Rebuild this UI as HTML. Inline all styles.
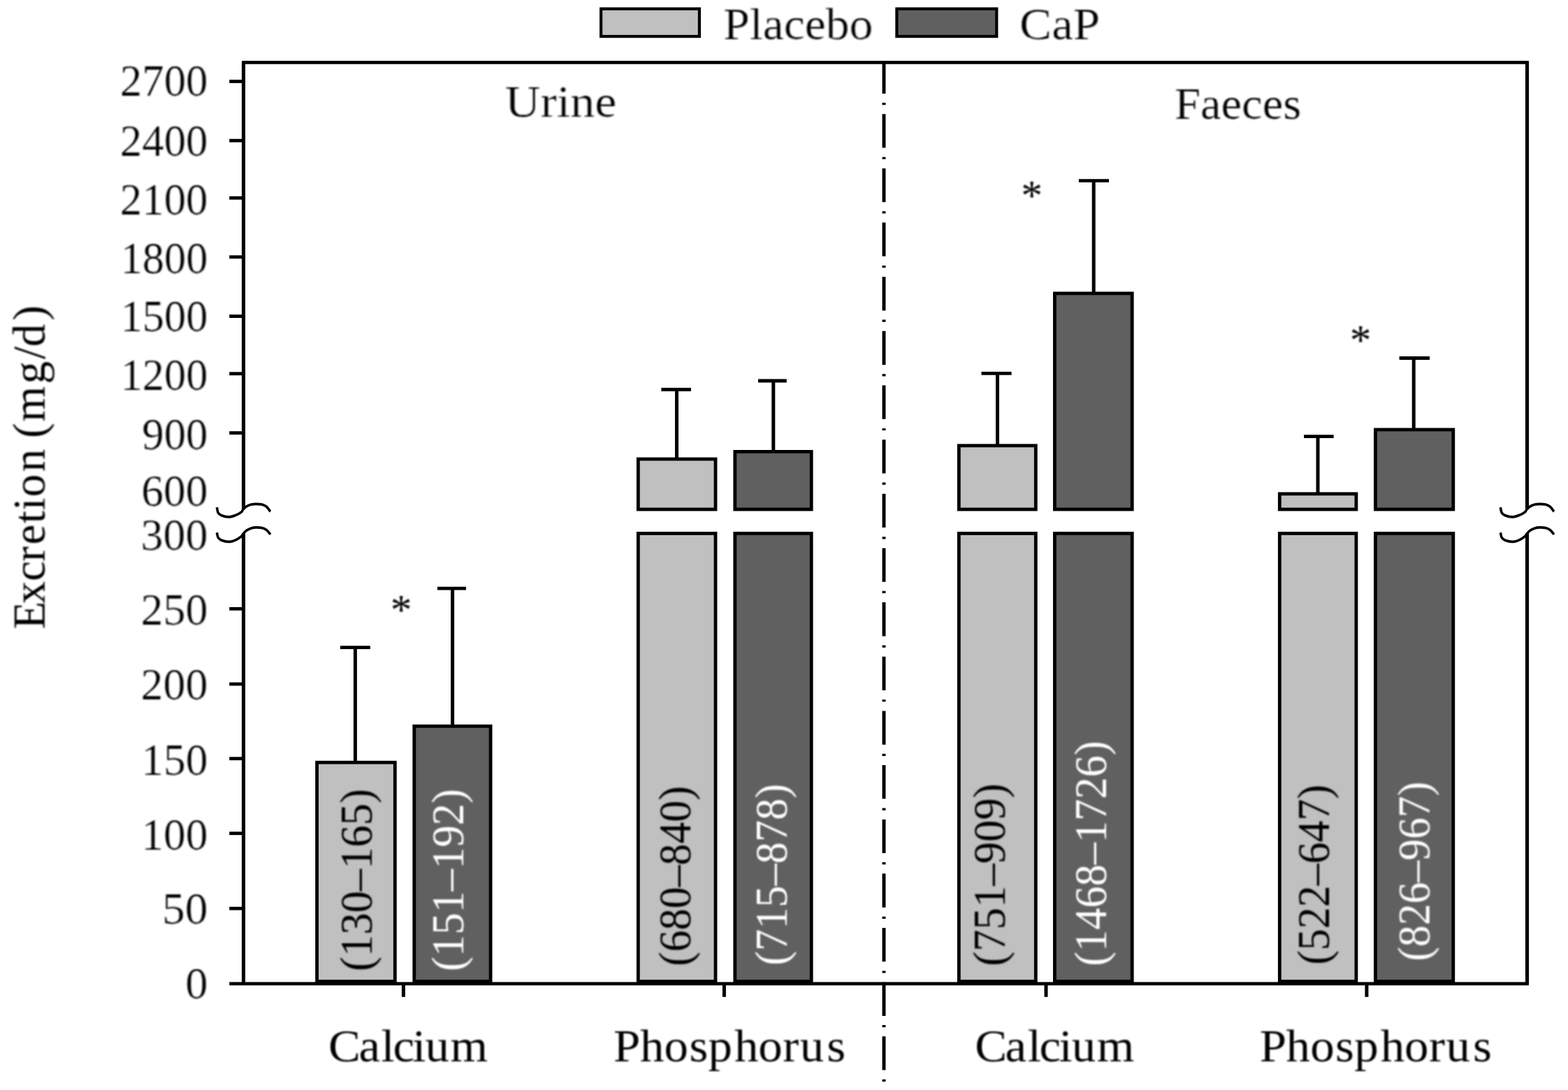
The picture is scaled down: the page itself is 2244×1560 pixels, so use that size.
<!DOCTYPE html>
<html lang="en">
<head>
<meta charset="utf-8">
<title>Excretion of calcium and phosphorus in urine and faeces</title>
<style>
html, body { margin: 0; padding: 0; background: #fff; }
body { width: 2244px; height: 1560px; }
svg { display: block; }
svg text { font-family: 'Liberation Serif', serif; }
</style>
</head>
<body>
<svg width="2244" height="1560" viewBox="0 0 2244 1560">
<rect x="0" y="0" width="2244" height="1560" fill="#fff"/>
<defs>
<filter id="soft-text" filterUnits="userSpaceOnUse" x="0" y="0" width="2244" height="1560"><feGaussianBlur stdDeviation="0.9 0.85"/></filter>
</defs>
<g class="shapes">
<rect x="860.10" y="12.60" width="140.80" height="39.50" fill="#c0c0c0" stroke="#000" stroke-width="4.2"/>
<rect x="1283.40" y="12.60" width="142.90" height="39.50" fill="#606060" stroke="#000" stroke-width="4.2"/>
<line x1="1265" y1="87.1" x2="1265" y2="1560" stroke="#000" stroke-width="4.9" stroke-dasharray="48.3 13.1 3.2 13.05" stroke-dashoffset="1.5"/>
<line x1="508.40" y1="926.70" x2="508.40" y2="1091.80" stroke="#000" stroke-width="5.0" />
<line x1="486.90" y1="926.70" x2="529.90" y2="926.70" stroke="#000" stroke-width="4.8" />
<rect x="453.60" y="1091.20" width="111.70" height="313.40" fill="#c0c0c0" stroke="#000" stroke-width="4.8"/>
<line x1="647.60" y1="842.10" x2="647.60" y2="1039.90" stroke="#000" stroke-width="5.0" />
<line x1="626.00" y1="842.10" x2="667.00" y2="842.10" stroke="#000" stroke-width="4.8" />
<rect x="592.80" y="1039.30" width="109.30" height="365.30" fill="#606060" stroke="#000" stroke-width="4.8"/>
<line x1="968.50" y1="557.50" x2="968.50" y2="657.60" stroke="#000" stroke-width="5.0" />
<line x1="946.40" y1="557.50" x2="988.90" y2="557.50" stroke="#000" stroke-width="4.8" />
<rect x="913.30" y="657.00" width="110.70" height="72.00" fill="#c0c0c0" stroke="#000" stroke-width="4.8"/>
<rect x="913.30" y="763.40" width="110.70" height="641.20" fill="#c0c0c0" stroke="#000" stroke-width="4.8"/>
<line x1="1106.80" y1="545.00" x2="1106.80" y2="647.00" stroke="#000" stroke-width="5.0" />
<line x1="1085.00" y1="545.00" x2="1125.80" y2="545.00" stroke="#000" stroke-width="4.8" />
<rect x="1051.80" y="646.40" width="109.40" height="82.60" fill="#606060" stroke="#000" stroke-width="4.8"/>
<rect x="1051.80" y="763.40" width="109.40" height="641.20" fill="#606060" stroke="#000" stroke-width="4.8"/>
<line x1="1427.50" y1="534.40" x2="1427.50" y2="638.40" stroke="#000" stroke-width="5.0" />
<line x1="1404.50" y1="534.40" x2="1447.60" y2="534.40" stroke="#000" stroke-width="4.8" />
<rect x="1372.30" y="637.80" width="110.00" height="91.20" fill="#c0c0c0" stroke="#000" stroke-width="4.8"/>
<rect x="1372.30" y="763.40" width="110.00" height="641.20" fill="#c0c0c0" stroke="#000" stroke-width="4.8"/>
<line x1="1565.20" y1="258.70" x2="1565.20" y2="420.50" stroke="#000" stroke-width="5.0" />
<line x1="1543.90" y1="258.70" x2="1587.00" y2="258.70" stroke="#000" stroke-width="4.8" />
<rect x="1509.40" y="419.90" width="110.80" height="309.10" fill="#606060" stroke="#000" stroke-width="4.8"/>
<rect x="1509.40" y="763.40" width="110.80" height="641.20" fill="#606060" stroke="#000" stroke-width="4.8"/>
<line x1="1886.00" y1="624.60" x2="1886.00" y2="707.40" stroke="#000" stroke-width="5.0" />
<line x1="1866.10" y1="624.60" x2="1908.60" y2="624.60" stroke="#000" stroke-width="4.8" />
<rect x="1831.30" y="706.80" width="109.60" height="22.20" fill="#c0c0c0" stroke="#000" stroke-width="4.8"/>
<rect x="1831.30" y="763.40" width="109.60" height="641.20" fill="#c0c0c0" stroke="#000" stroke-width="4.8"/>
<line x1="2023.20" y1="512.50" x2="2023.20" y2="615.50" stroke="#000" stroke-width="5.0" />
<line x1="2002.60" y1="512.50" x2="2046.00" y2="512.50" stroke="#000" stroke-width="4.8" />
<rect x="1968.40" y="614.90" width="111.40" height="114.10" fill="#606060" stroke="#000" stroke-width="4.8"/>
<rect x="1968.40" y="763.40" width="111.40" height="641.20" fill="#606060" stroke="#000" stroke-width="4.8"/>
<line x1="346.10" y1="89.30" x2="2187.90" y2="89.30" stroke="#000" stroke-width="4.8" />
<line x1="328.20" y1="1407.90" x2="2187.90" y2="1407.90" stroke="#000" stroke-width="4.8" />
<line x1="348.50" y1="89.30" x2="348.50" y2="729.00" stroke="#000" stroke-width="5.1" />
<line x1="348.50" y1="763.00" x2="348.50" y2="1407.90" stroke="#000" stroke-width="5.1" />
<line x1="2185.50" y1="89.30" x2="2185.50" y2="729.00" stroke="#000" stroke-width="5.1" />
<line x1="2185.50" y1="763.00" x2="2185.50" y2="1407.90" stroke="#000" stroke-width="5.1" />
<path d="M310.4,726.2 C310.7,727.5 311.1,732.0 312.2,733.9 C313.3,735.9 314.5,736.8 317.1,737.8 C319.7,738.8 324.6,740.0 328.0,739.9 C331.4,739.8 334.9,738.3 337.8,737.1 C340.7,736.0 343.6,734.3 345.4,732.9 C347.2,731.4 347.2,729.8 348.5,728.4 C349.8,727.1 351.2,725.7 353.1,724.6 C355.0,723.6 357.4,722.7 359.6,722.1 C361.8,721.6 363.6,721.4 366.2,721.4 C368.8,721.4 372.4,721.5 374.9,722.1 C377.4,722.8 379.6,723.8 381.4,725.2 C383.2,726.7 384.9,729.5 385.8,730.6 C386.7,731.8 386.7,732.0 386.9,732.2" fill="none" stroke="#000" stroke-width="3.6" stroke-linejoin="round"/>
<path d="M310.4,762.3 C310.7,763.5 311.1,767.6 312.2,769.4 C313.3,771.2 314.5,772.2 317.1,773.2 C319.7,774.2 324.6,775.5 328.0,775.4 C331.4,775.3 334.9,773.9 337.8,772.6 C340.7,771.3 343.6,769.2 345.4,767.7 C347.2,766.2 347.2,764.9 348.5,763.4 C349.8,761.9 351.2,760.2 353.1,759.0 C355.0,757.8 357.4,756.7 359.6,756.0 C361.8,755.3 363.6,755.0 366.2,754.9 C368.8,754.8 372.4,754.9 374.9,755.5 C377.4,756.1 379.6,757.2 381.4,758.5 C383.2,759.8 384.9,762.3 385.8,763.4 C386.7,764.5 386.7,764.7 386.9,765.0" fill="none" stroke="#000" stroke-width="3.6" stroke-linejoin="round"/>
<path d="M2147.4,726.2 C2147.7,727.5 2148.1,732.0 2149.2,733.9 C2150.3,735.9 2151.5,736.8 2154.1,737.8 C2156.7,738.8 2161.6,740.0 2165.0,739.9 C2168.4,739.8 2171.9,738.3 2174.8,737.1 C2177.7,736.0 2180.6,734.3 2182.4,732.9 C2184.2,731.4 2184.2,729.8 2185.5,728.4 C2186.8,727.1 2188.2,725.7 2190.1,724.6 C2191.9,723.6 2194.4,722.7 2196.6,722.1 C2198.8,721.6 2200.6,721.4 2203.2,721.4 C2205.8,721.4 2209.4,721.5 2211.9,722.1 C2214.4,722.8 2216.6,723.8 2218.4,725.2 C2220.2,726.7 2221.9,729.5 2222.8,730.6 C2223.7,731.8 2223.7,732.0 2223.9,732.2" fill="none" stroke="#000" stroke-width="3.6" stroke-linejoin="round"/>
<path d="M2147.4,762.3 C2147.7,763.5 2148.1,767.6 2149.2,769.4 C2150.3,771.2 2151.5,772.2 2154.1,773.2 C2156.7,774.2 2161.6,775.5 2165.0,775.4 C2168.4,775.3 2171.9,773.9 2174.8,772.6 C2177.7,771.3 2180.6,769.2 2182.4,767.7 C2184.2,766.2 2184.2,764.9 2185.5,763.4 C2186.8,761.9 2188.2,760.2 2190.1,759.0 C2191.9,757.8 2194.4,756.7 2196.6,756.0 C2198.8,755.3 2200.6,755.0 2203.2,754.9 C2205.8,754.8 2209.4,754.9 2211.9,755.5 C2214.4,756.1 2216.6,757.2 2218.4,758.5 C2220.2,759.8 2221.9,762.3 2222.8,763.4 C2223.7,764.5 2223.7,764.7 2223.9,765.0" fill="none" stroke="#000" stroke-width="3.6" stroke-linejoin="round"/>
<line x1="328.20" y1="116.50" x2="348.50" y2="116.50" stroke="#000" stroke-width="4.8" />
<line x1="328.20" y1="201.20" x2="348.50" y2="201.20" stroke="#000" stroke-width="4.8" />
<line x1="328.20" y1="283.30" x2="348.50" y2="283.30" stroke="#000" stroke-width="4.8" />
<line x1="328.20" y1="367.80" x2="348.50" y2="367.80" stroke="#000" stroke-width="4.8" />
<line x1="328.20" y1="452.60" x2="348.50" y2="452.60" stroke="#000" stroke-width="4.8" />
<line x1="328.20" y1="534.80" x2="348.50" y2="534.80" stroke="#000" stroke-width="4.8" />
<line x1="328.20" y1="619.60" x2="348.50" y2="619.60" stroke="#000" stroke-width="4.8" />
<line x1="328.20" y1="871.30" x2="348.50" y2="871.30" stroke="#000" stroke-width="4.8" />
<line x1="328.20" y1="979.00" x2="348.50" y2="979.00" stroke="#000" stroke-width="4.8" />
<line x1="328.20" y1="1085.70" x2="348.50" y2="1085.70" stroke="#000" stroke-width="4.8" />
<line x1="328.20" y1="1192.70" x2="348.50" y2="1192.70" stroke="#000" stroke-width="4.8" />
<line x1="328.20" y1="1300.20" x2="348.50" y2="1300.20" stroke="#000" stroke-width="4.8" />
<line x1="577.40" y1="1407.90" x2="577.40" y2="1426.80" stroke="#000" stroke-width="5.0" />
<line x1="1036.40" y1="1407.90" x2="1036.40" y2="1426.80" stroke="#000" stroke-width="5.0" />
<line x1="1497.00" y1="1407.90" x2="1497.00" y2="1426.80" stroke="#000" stroke-width="5.0" />
<line x1="1955.90" y1="1407.90" x2="1955.90" y2="1426.80" stroke="#000" stroke-width="5.0" />
</g>
<g class="labels" filter="url(#soft-text)">
<text x="1035.29" y="55.80" font-size="64" fill="#000" textLength="214.16" lengthAdjust="spacingAndGlyphs" stroke="#fff" stroke-width="0.15" stroke-linejoin="round">Placebo</text>
<text x="1459.10" y="55.80" font-size="64" fill="#000" textLength="115.20" lengthAdjust="spacingAndGlyphs" stroke="#fff" stroke-width="0.15" stroke-linejoin="round">CaP</text>
<text x="171.86" y="137.30" font-size="64" fill="#000" textLength="125.60" lengthAdjust="spacingAndGlyphs" stroke="#fff" stroke-width="0.15" stroke-linejoin="round">2700</text>
<text x="171.86" y="222.70" font-size="64" fill="#000" textLength="125.60" lengthAdjust="spacingAndGlyphs" stroke="#fff" stroke-width="0.15" stroke-linejoin="round">2400</text>
<text x="171.86" y="306.50" font-size="64" fill="#000" textLength="125.60" lengthAdjust="spacingAndGlyphs" stroke="#fff" stroke-width="0.15" stroke-linejoin="round">2100</text>
<text x="172.64" y="391.00" font-size="64" fill="#000" textLength="124.80" lengthAdjust="spacingAndGlyphs" stroke="#fff" stroke-width="0.15" stroke-linejoin="round">1800</text>
<text x="172.64" y="473.50" font-size="64" fill="#000" textLength="124.80" lengthAdjust="spacingAndGlyphs" stroke="#fff" stroke-width="0.15" stroke-linejoin="round">1500</text>
<text x="172.64" y="557.70" font-size="64" fill="#000" textLength="124.80" lengthAdjust="spacingAndGlyphs" stroke="#fff" stroke-width="0.15" stroke-linejoin="round">1200</text>
<text x="203.34" y="642.60" font-size="64" fill="#000" textLength="94.11" lengthAdjust="spacingAndGlyphs" stroke="#fff" stroke-width="0.15" stroke-linejoin="round">900</text>
<text x="202.33" y="724.30" font-size="64" fill="#000" textLength="95.15" lengthAdjust="spacingAndGlyphs" stroke="#fff" stroke-width="0.15" stroke-linejoin="round">600</text>
<text x="201.50" y="786.80" font-size="64" fill="#000" textLength="96.00" lengthAdjust="spacingAndGlyphs" stroke="#fff" stroke-width="0.15" stroke-linejoin="round">300</text>
<text x="201.50" y="894.20" font-size="64" fill="#000" textLength="96.00" lengthAdjust="spacingAndGlyphs" stroke="#fff" stroke-width="0.15" stroke-linejoin="round">250</text>
<text x="201.50" y="1000.80" font-size="64" fill="#000" textLength="96.00" lengthAdjust="spacingAndGlyphs" stroke="#fff" stroke-width="0.15" stroke-linejoin="round">200</text>
<text x="202.24" y="1109.00" font-size="64" fill="#000" textLength="95.24" lengthAdjust="spacingAndGlyphs" stroke="#fff" stroke-width="0.15" stroke-linejoin="round">150</text>
<text x="202.24" y="1216.40" font-size="64" fill="#000" textLength="95.24" lengthAdjust="spacingAndGlyphs" stroke="#fff" stroke-width="0.15" stroke-linejoin="round">100</text>
<text x="232.12" y="1322.20" font-size="64" fill="#000" textLength="65.43" lengthAdjust="spacingAndGlyphs" stroke="#fff" stroke-width="0.15" stroke-linejoin="round">50</text>
<text x="265.28" y="1428.80" font-size="64" fill="#000" textLength="32.24" lengthAdjust="spacingAndGlyphs" stroke="#fff" stroke-width="0.15" stroke-linejoin="round">0</text>
<text x="722.86" y="167.20" font-size="64" fill="#000" textLength="159.47" lengthAdjust="spacingAndGlyphs" stroke="#fff" stroke-width="0.15" stroke-linejoin="round">Urine</text>
<text x="1680.92" y="169.70" font-size="64" fill="#000" textLength="181.29" lengthAdjust="spacingAndGlyphs" stroke="#fff" stroke-width="0.15" stroke-linejoin="round">Faeces</text>
<text x="558.84" y="892.84" font-size="61.5" text-anchor="start" fill="#000" >*</text>
<text x="1461.14" y="299.64" font-size="61.5" text-anchor="start" fill="#000" >*</text>
<text x="1931.64" y="506.54" font-size="61.5" text-anchor="start" fill="#000" >*</text>
<text transform="scale(1.06 1)" x="443.5 484.4 514.6 530.6 556.9 574.0 608.1" y="1519.30" font-size="65" fill="#000" >Calcium</text>
<text transform="scale(1.06 1)" x="828.3 864.1 896.8 930.6 956.2 991.6 1023.9 1056.9 1080.0 1116.3" y="1519.30" font-size="65" fill="#000" >Phosphorus</text>
<text transform="scale(1.06 1)" x="1316.3 1357.2 1387.4 1403.4 1429.7 1446.9 1481.0" y="1519.30" font-size="65" fill="#000" >Calcium</text>
<text transform="scale(1.06 1)" x="1700.6 1736.4 1769.1 1802.9 1828.5 1863.9 1896.2 1929.2 1952.3 1988.6" y="1519.30" font-size="65" fill="#000" >Phosphorus</text>
<text transform="translate(63.80 0) rotate(-90)" x="-900.5 -864.3 -831.8 -803.8 -779.5 -749.0 -730.5 -711.2 -675.2 -655.2 -627.0 -603.4 -549.5 -514.0 -496.2 -458.8" y="0" font-size="65" fill="#000" >Excretion (mg/d)</text>
<text x="532.00" y="1390.05" font-size="66" fill="#000" textLength="261.07" lengthAdjust="spacingAndGlyphs" transform="rotate(-90 532.00 1390.05)" >(130–165)</text>
<text x="663.30" y="1390.05" font-size="66" fill="#fff" textLength="261.07" lengthAdjust="spacingAndGlyphs" transform="rotate(-90 663.30 1390.05)" >(151–192)</text>
<text x="987.90" y="1382.81" font-size="66" fill="#000" textLength="257.90" lengthAdjust="spacingAndGlyphs" transform="rotate(-90 987.90 1382.81)" >(680–840)</text>
<text x="1126.40" y="1381.84" font-size="66" fill="#fff" textLength="260.04" lengthAdjust="spacingAndGlyphs" transform="rotate(-90 1126.40 1381.84)" >(715–878)</text>
<text x="1437.70" y="1382.75" font-size="66" fill="#000" textLength="261.48" lengthAdjust="spacingAndGlyphs" transform="rotate(-90 1437.70 1382.75)" >(751–909)</text>
<text x="1582.70" y="1382.74" font-size="66" fill="#fff" textLength="322.44" lengthAdjust="spacingAndGlyphs" transform="rotate(-90 1582.70 1382.74)" >(1468–1726)</text>
<text x="1901.70" y="1380.81" font-size="66" fill="#000" textLength="258.00" lengthAdjust="spacingAndGlyphs" transform="rotate(-90 1901.70 1380.81)" >(522–647)</text>
<text x="2045.30" y="1375.60" font-size="66" fill="#fff" textLength="256.88" lengthAdjust="spacingAndGlyphs" transform="rotate(-90 2045.30 1375.60)" >(826–967)</text>
</g>
</svg>
</body>
</html>
